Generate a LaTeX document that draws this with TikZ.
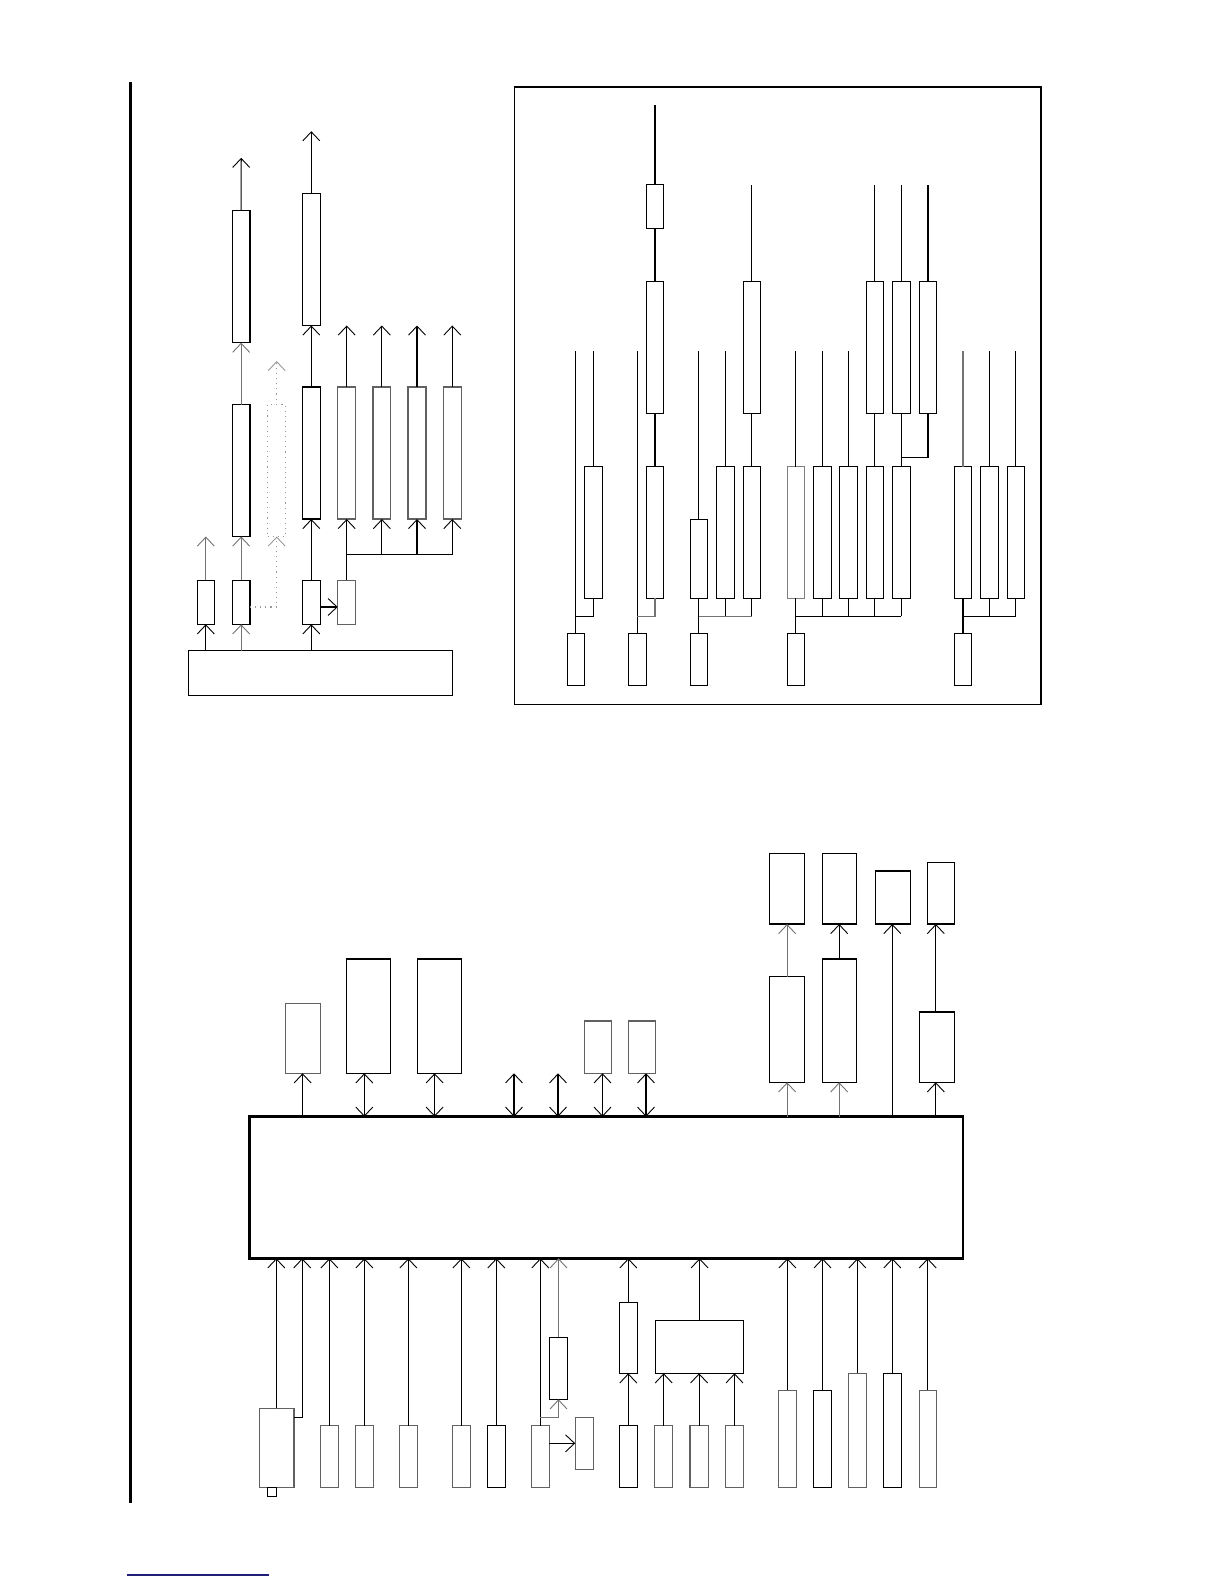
\documentclass[tikz,border=0pt]{standalone}
\usetikzlibrary{fit,arrows.meta}
\tikzset{
  bx/.style={draw, line width=0.55pt, inner sep=0pt, outer sep=0pt, rectangle},
  ln/.style={line width=0.55pt},
  ar/.style={ln, -{Straight Barb[length=4.5pt,width=8.5pt,line width=0.45pt]}},
  dar/.style={ln, {Straight Barb[length=4.5pt,width=8.5pt,line width=0.45pt]}-{Straight Barb[length=4.5pt,width=8.5pt,line width=0.45pt]}},
  gr/.style={draw=black!62},
  gl/.style={black!55},
}
\newcommand\bx[6][]{\node[bx,#1,fit={(#3,#4) (#5,#6)}] (#2) {};}
\begin{document}
\begin{tikzpicture}[x=0.5pt,y=-0.5pt]
\useasboundingbox (0,0) rectangle (1224,1584);
% left rule and bottom link line
\draw[line width=1.1pt] (130.5,82) -- (130.5,1503);
\draw[line width=0.8pt, color={rgb,255:red,30;green,30;blue,120}] (127,1575) -- (269,1575);

% ---------- top-left section ----------
\bx{wideA}{188.3}{650.8}{452.3}{695.3}
\bx{a1}{197.3}{580.2}{214.3}{624.3}
\coordinate (a1t) at (205.8,536.5);
\draw[ar] (wideA.north -| a1) -- (a1.south);
\draw[ar,gl] (a1.north) -- (a1t);
\bx{a2}{232.3}{580.2}{250}{624.3}
\bx{a3}{232.3}{404.7}{250}{536.5}
\bx{a4}{232.3}{210.8}{250}{342.7}
\coordinate (a4t) at (241.2,157.8);
\draw[ar,gl] (wideA.north -| a2) -- (a2.south);
\draw[ar,gl] (a2.north) -- (a3.south);
\draw[ar,gl] (a3.north) -- (a4.south);
\draw[ar] (a4.north) -- (a4t);
\bx[dotted,draw=black!40]{a5}{267.7}{404.7}{285.7}{536.5}
\coordinate (a5t) at (276.7,361);
\draw[ar,dotted,black!40] (a2.east |- 0,607) -| (a5.south);
\draw[ar,dotted,black!40] (a5.north) -- (a5t);
\bx{b1}{302.3}{580.2}{320.3}{624.3}
\bx{b2}{302.3}{387}{320.3}{519}
\bx{b3}{302.3}{193.3}{320.3}{325.5}
\coordinate (b3t) at (311.3,131.2);
\draw[ar] (wideA.north -| b1) -- (b1.south);
\draw[ar] (b1.north) -- (b2.south);
\draw[ar] (b2.north) -- (b3.south);
\draw[ar] (b3.north) -- (b3t);
\bx[gr]{b4}{337.7}{580.2}{355.7}{624.3}
\draw[ar] (b1.east |- 0,607) -- (b4.west |- 0,607);
\bx[gr]{c1}{337.7}{387}{355.7}{519}
\bx[gr]{c2}{373}{387}{390.7}{519}
\bx[gr]{c3}{408}{387}{426}{519}
\bx[gr]{c4}{443.3}{387}{461.3}{519}
\draw[ln] (b4.north) -- (b4.north |- 0,554.5) -- (c4.south |- 0,554.5);
\foreach \n in {c1,c2,c3,c4}{
  \draw[ar] (\n.south |- 0,554.5) -- (\n.south);
  \draw[ar] (\n.north) -- (\n.north |- 0,325.5);
}

% ---------- framed section ----------
\bx[line width=0.8pt]{frame}{514.5}{87}{1041}{704.5}
% A
\bx{p1}{567.1}{633.2}{584.7}{685.9}
\bx{p2}{584.7}{466.5}{602.3}{598.3}
\draw[ln] (p1.north) -- (p1.north |- 0,351.2);
\draw[ln] (p1.north |- 0,616.3) -| (p2.south);
\draw[ln] (p2.north) -- (p2.north |- 0,351.2);
% B
\bx{q1}{628.4}{633.2}{646.3}{685.9}
\bx{q2}{646.3}{466.5}{663.6}{598.3}
\bx{q3}{646.3}{281.3}{663.6}{413.5}
\bx{q4}{646.3}{184.5}{663.6}{228.3}
\draw[ln] (q1.north) -- (q1.north |- 0,351.2);
\draw[ln,gl] (q1.north |- 0,616.3) -| (q2.south);
\draw[ln] (q2.north) -- (q3.south);
\draw[ln] (q3.north) -- (q4.south);
\draw[ln] (q4.north) -- (q4.north |- 0,104.9);
% C
\bx{r1}{690.4}{633.2}{707.3}{685.9}
\bx{r2}{690.4}{519.5}{707.3}{598.3}
\bx{r3}{716.3}{466.5}{734.2}{598.3}
\bx{r4}{743.5}{466.5}{760.3}{598.3}
\bx{r5}{743.5}{281.3}{760.3}{413.5}
\draw[ln] (r1.north) -- (r2.south);
\draw[ln] (r2.north) -- (r2.north |- 0,351.2);
\draw[ln,gl] (r1.north |- 0,616.3) -- (r4.south |- 0,616.3);
\draw[ln] (r3.south |- 0,616.3) -- (r3.south);
\draw[ln] (r4.south |- 0,616.3) -- (r4.south);
\draw[ln] (r3.north) -- (r3.north |- 0,351.2);
\draw[ln] (r4.north) -- (r5.south);
\draw[ln] (r5.north) -- (r5.north |- 0,184.5);
% D
\bx{s1}{787.2}{633.2}{804.4}{685.9}
\bx[draw=black!50]{s2}{787.2}{466.5}{804.4}{598.3}
\bx{s3}{813.4}{466.5}{831.3}{598.3}
\bx{s4}{839.5}{466.5}{857.4}{598.3}
\bx{s5}{866.4}{466.5}{883.3}{598.3}
\bx{s6}{892.6}{466.5}{910.1}{598.3}
\bx{e1}{866.4}{281.3}{883.3}{413.5}
\bx{e2}{892.6}{281.3}{910.1}{413.5}
\bx{e3}{919.4}{281.3}{936.6}{413.5}
\draw[ln] (s1.north) -- (s2.south);
\draw[ln] (s2.north) -- (s2.north |- 0,351.2);
\draw[ln] (s1.north |- 0,616.3) -- (s6.south |- 0,616.3);
\foreach \n in {s3,s4,s5,s6}{ \draw[ln] (\n.south |- 0,616.3) -- (\n.south); }
\draw[ln] (s3.north) -- (s3.north |- 0,351.2);
\draw[ln] (s4.north) -- (s4.north |- 0,351.2);
\draw[ln] (s5.north) -- (e1.south);
\draw[ln] (s6.north) -- (e2.south);
\draw[ln] (s6.north |- 0,457.7) -| (e3.south);
\foreach \n in {e1,e2,e3}{ \draw[ln] (\n.north) -- (\n.north |- 0,184.5); }
% F
\bx{f1}{954.5}{633.2}{971.4}{685.9}
\bx{f2}{954.5}{466.5}{971.4}{598.3}
\bx{f3}{980.4}{466.5}{998.3}{598.3}
\bx{f4}{1007.2}{466.5}{1024.5}{598.3}
\draw[ln] (f1.north) -- (f2.south);
\draw[ln,gl] (f2.north) -- (f2.north |- 0,351.2);
\draw[ln] (f1.north |- 0,616.3) -- (f4.south |- 0,616.3);
\foreach \n in {f3,f4}{
  \draw[ln] (\n.south |- 0,616.3) -- (\n.south);
  \draw[ln] (\n.north) -- (\n.north |- 0,351.2);
}

% ---------- bottom section ----------
\bx[line width=1.3pt]{big}{249.6}{1116.7}{963.1}{1258.3}
% top side
\bx[gr]{t1}{285.4}{1003.3}{320.3}{1073.3}
\bx{t2}{346.2}{959}{390.6}{1073.3}
\bx{t3}{417.4}{959}{461.4}{1073.3}
\bx[gr]{t4}{584.3}{1021}{611.1}{1073.3}
\bx[gr]{t5}{628.3}{1021}{655.1}{1073.3}
\coordinate (o1) at (514,1073.3);
\coordinate (o2) at (558,1073.3);
\draw[ar] (302.6,0 |- big.north) -- (302.6,0 |- t1.south);
\draw[dar] (364.3,0 |- big.north) -- (364.3,0 |- t2.south);
\draw[dar] (434.6,0 |- big.north) -- (434.6,0 |- t3.south);
\draw[dar] (o1 |- big.north) -- (o1);
\draw[dar] (o2 |- big.north) -- (o2);
\draw[dar] (602.5,0 |- big.north) -- (602.5,0 |- t4.south);
\draw[dar] (646,0 |- big.north) -- (646,0 |- t5.south);
\bx{u1}{769.4}{976.7}{804.3}{1082.3}
\bx{u1t}{769.4}{853.3}{804.3}{924}
\bx{u2}{822.5}{959}{856.9}{1082.3}
\bx{u2t}{822.5}{853.3}{856.9}{924}
\bx{u3t}{875.1}{871}{910.5}{924}
\bx{u4}{919.1}{1012}{954.5}{1082.3}
\bx{u4t}{927.2}{862.3}{954.5}{924}
\draw[ar,gl] (787.1,0 |- big.north) -- (787.1,0 |- u1.south);
\draw[ar,gl] (787.1,0 |- u1.north) -- (787.1,0 |- u1t.south);
\draw[ar,gl] (839.2,0 |- big.north) -- (839.2,0 |- u2.south);
\draw[ar] (839.2,0 |- u2.north) -- (839.2,0 |- u2t.south);
\draw[ar] (892.3,0 |- big.north) -- (892.3,0 |- u3t.south);
\draw[ar] (935.8,0 |- big.north) -- (935.8,0 |- u4.south);
\draw[ar] (935.8,0 |- u4.north) -- (935.8,0 |- u4t.south);
% bottom side
\bx[gr]{v1}{259.1}{1408.3}{294}{1487.3}
\bx{tab}{267.3}{1487.3}{276.3}{1496.7}
\draw[ar] (276.3,0 |- v1.north) -- (276.3,0 |- big.south);
\draw[ar] (v1.east |- 0,1417.3) -| (302.2,0 |- big.south);
\bx[gr]{v2}{320.3}{1425.7}{338.5}{1487.3}
\bx[gr]{v3}{355.3}{1425.7}{373.4}{1487.3}
\bx[gr]{v4}{399.3}{1425.7}{417.4}{1487.3}
\bx[gr]{v5}{452.3}{1425.7}{470.5}{1487.3}
\bx{v6}{487.2}{1425.7}{505.4}{1487.3}
\bx[gr]{v7}{531.2}{1425.7}{549.4}{1487.3}
\foreach \n in {v2,v3,v4,v5,v6,v7}{ \draw[ar] (\n.north) -- (\n.north |- big.south); }
\bx{w1}{549.4}{1337.3}{567.6}{1399.3}
\bx[gr]{w2}{575.2}{1417.3}{593.4}{1469.3}
\draw[ar,gl] (v7.north |- 0,1417.3) -| (w1.south);
\draw[ar,gl] (w1.north) -- (w1.north |- big.south);
\draw[ar] (v7.east |- 0,1443.3) -- (w2.west |- 0,1443.3);
\bx{v8}{619.2}{1425.7}{637.4}{1487.3}
\bx{w3}{619.2}{1302.3}{637.4}{1373.3}
\draw[ar] (v8.north) -- (w3.south);
\draw[ar] (w3.north) -- (w3.north |- big.south);
\bx{W}{655.6}{1320.3}{743.6}{1373.3}
\draw[ar] (W.north) -- (W.north |- big.south);
\bx[gr]{v9}{654.6}{1425.7}{672.8}{1487.3}
\bx[gr]{v10}{690}{1425.7}{708.2}{1487.3}
\bx[gr]{v11}{725.4}{1425.7}{743.6}{1487.3}
\foreach \n in {v9,v10,v11}{ \draw[ar] (\n.north) -- (\n.north |- W.south); }
\bx[gr]{x1}{778.5}{1390.3}{796.2}{1487.3}
\bx{x2}{813.4}{1390.3}{831.6}{1487.3}
\bx[gr]{x3}{848.3}{1373.3}{866.5}{1487.3}
\bx{x4}{883.2}{1373.3}{901.4}{1487.3}
\bx[gr]{x5}{919.1}{1390.3}{936.3}{1487.3}
\foreach \n in {x1,x2,x3,x4,x5}{ \draw[ar] (\n.north) -- (\n.north |- big.south); }
\end{tikzpicture}
\end{document}
